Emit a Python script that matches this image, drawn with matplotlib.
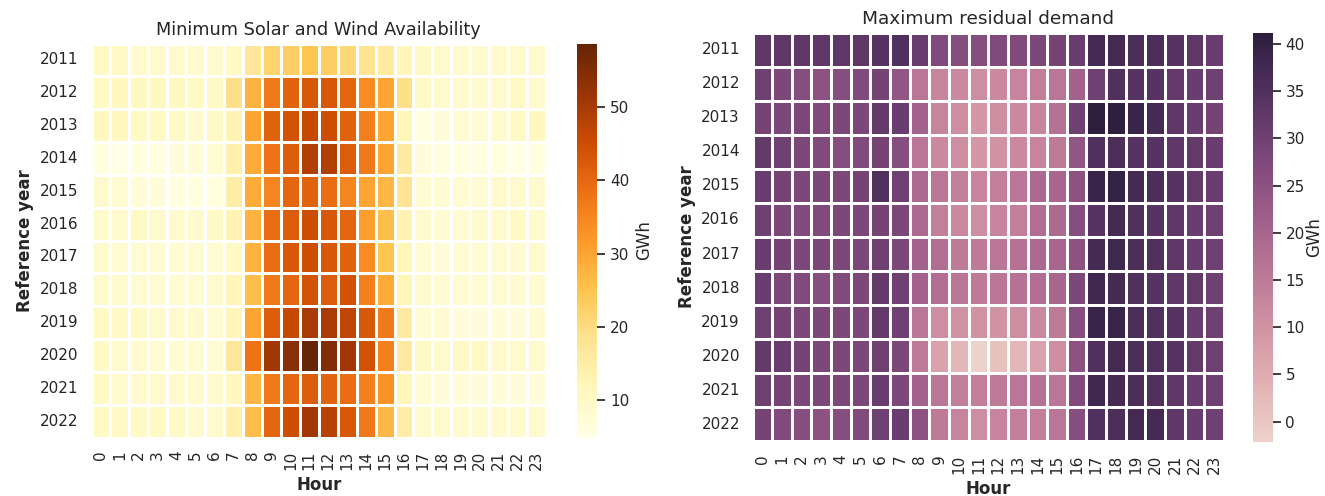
import numpy as np
import matplotlib
matplotlib.use("Agg")
import matplotlib.pyplot as plt
import seaborn as sns

years = list(range(2011, 2023))
hours = list(range(24))

# minimum solar + wind availability (GWh), one row per reference year
solar_wind = [
    [10, 10, 9, 9, 9, 9, 9, 10, 17, 22, 23, 25, 23, 21, 18, 16, 12, 10, 9, 9, 9, 9, 9, 9],
    [10, 11, 11, 11, 11, 10, 10, 19, 28, 37, 41, 43, 43, 40, 34, 30, 19, 10, 9, 9, 9, 9, 10, 9],
    [11, 11, 10, 10, 10, 9, 10, 13, 30, 41, 44, 46, 45, 41, 36, 30, 12, 6, 7, 8, 8, 9, 10, 11],
    [6, 4.9, 6, 6, 7, 7, 8, 14, 29, 38, 42, 49, 49, 42, 37, 30, 16, 7, 6, 6, 6, 6, 5, 6],
    [9, 8, 7, 7, 6, 6, 6, 15, 29, 35, 40, 41, 39, 35, 30, 27, 18, 8, 8, 8, 8, 9, 9, 9],
    [9, 9, 10, 9, 9, 9, 10, 13, 28, 39, 42, 45, 43, 40, 31, 26, 13, 9, 8, 8, 9, 9, 10, 9],
    [9, 8, 8, 8, 8, 8, 8, 10, 28, 39, 43, 45, 43, 41, 34, 25, 12, 8, 7, 8, 8, 8, 8, 9],
    [9, 9, 8, 8, 8, 8, 9, 12, 26, 37, 40, 44, 42, 44, 36, 29, 12, 9, 8, 8, 8, 8, 8, 8],
    [10, 10, 10, 9, 9, 9, 8, 12, 30, 42, 46, 50, 50, 47, 43, 37, 16, 8, 8, 7, 7, 7, 7, 8],
    [10, 9, 9, 8, 8, 8, 8, 17, 38, 51, 54, 58.7, 55, 51, 44, 36, 16, 10, 9, 10, 10, 9, 9, 9],
    [10, 9, 9, 9, 9, 9, 9, 11, 27, 37, 40, 42, 41, 39, 36, 33, 12, 8, 7, 7, 7, 7, 7, 7],
    [10, 10, 10, 10, 10, 9, 9, 14, 26, 40, 45, 51, 48, 43, 37, 27, 15, 9, 9, 9, 9, 9, 9, 9],
]

# maximum residual demand (GWh)
residual = [
    [33, 33, 33, 33, 33, 33, 34, 35, 31, 27, 26, 26, 27, 27, 28, 29, 31, 37, 37, 36, 36, 34, 33, 31],
    [30, 28, 26, 25, 26, 27, 29, 24, 16, 13, 12, 11, 12, 13, 14, 16, 21, 30, 35, 34, 34, 32, 31, 30],
    [29, 28, 28, 27, 28, 28, 32, 31, 21, 13, 11, 9, 11, 12, 13, 17, 30, 41.2, 41, 39, 37, 33, 31, 29],
    [32, 30, 28, 27, 26, 27, 29, 26, 16, 12, 11, 9, 10, 12, 13, 15, 24, 35, 36, 34, 34, 33, 32, 31],
    [31, 29, 28, 28, 28, 29, 35, 30, 19, 16, 14, 13, 14, 16, 19, 20, 25, 39, 40, 37, 36, 34, 32, 31],
    [30, 28, 27, 27, 28, 28, 29, 28, 19, 14, 12, 11, 13, 14, 18, 19, 26, 34, 37, 35, 34, 33, 31, 30],
    [31, 29, 28, 28, 28, 28, 30, 28, 21, 18, 15, 15, 16, 17, 19, 20, 25, 37, 38, 36, 35, 33, 31, 30],
    [31, 28, 27, 26, 27, 28, 32, 30, 21, 18, 16, 15, 16, 17, 18, 20, 28, 38, 37, 35, 34, 33, 32, 30],
    [30, 29, 28, 28, 28, 28, 32, 30, 16, 11, 10, 10, 10, 11, 12, 15, 26, 39, 39, 36, 35, 34, 31, 30],
    [32, 31, 29, 28, 28, 28, 30, 28, 15, 7, 3, -2.1, 1, 3, 7, 11, 25, 35, 37, 36, 35, 34, 32, 30],
    [30, 29, 28, 28, 28, 28, 31, 28, 21, 16, 14, 14, 15, 16, 17, 16, 27, 38, 37, 36, 35, 33, 31, 30],
    [29, 27, 26, 25, 26, 27, 30, 31, 25, 15, 13, 11, 13, 14, 14, 16, 26, 35, 36, 37, 37, 33, 31, 30],
]

sns.set_theme(style="white")

fig = plt.figure(figsize=(13.25, 4.96), dpi=100)
W, H = 1325, 496


def box(x0, y0, x1, y1):
    return [x0 / W, 1 - y1 / H, (x1 - x0) / W, (y1 - y0) / H]


ax1 = fig.add_axes(box(91.5, 43.5, 546, 437.5))
cax1 = fig.add_axes(box(577, 43.5, 597, 437.5))
ax2 = fig.add_axes(box(752.5, 32.5, 1224, 441.5))
cax2 = fig.add_axes(box(1253, 32.5, 1273, 441.5))

sns.heatmap(np.array(solar_wind), ax=ax1, cbar_ax=cax1, cmap="YlOrBr",
            linewidths=1, linecolor="white",
            xticklabels=hours, yticklabels=years)
cax1.set_ylabel("GWh")
ax1.set_title("Minimum Solar and Wind Availability", fontsize=12.8)

sns.heatmap(np.array(residual), ax=ax2, cbar_ax=cax2,
            cmap=sns.cubehelix_palette(as_cmap=True),
            linewidths=1, linecolor="white",
            xticklabels=hours, yticklabels=years)
cax2.set_ylabel("GWh", labelpad=0)
cax2.tick_params(pad=3)
ax2.set_title("Maximum residual demand", fontsize=13.3)
ax2.tick_params(axis="y", pad=3)

for ax in (ax1, ax2):
    ax.set_xlabel("Hour", fontweight="bold")
    ax.set_ylabel("Reference year", fontweight="bold")
    ax.tick_params(axis="x", rotation=90)
    ax.tick_params(axis="y", rotation=0)

fig.savefig("out.png", dpi=100)
